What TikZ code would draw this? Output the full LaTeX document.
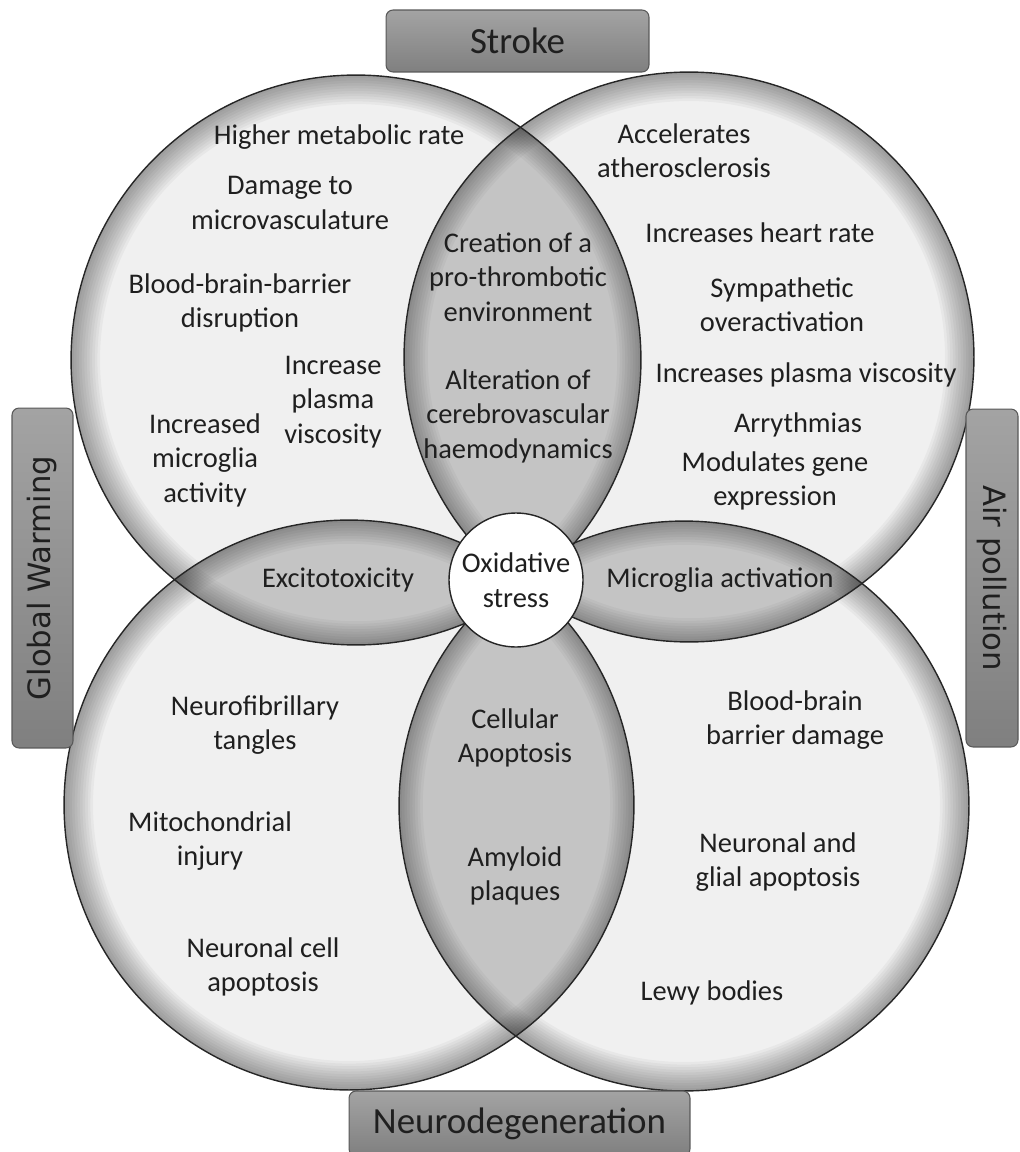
\documentclass[tikz,border=0pt]{standalone}
\usepackage{fontspec}
\setmainfont{Carlito}
\newfontfamily\sidefont{DejaVu Sans}

\newcommand{\circrim}[3]{%
  \foreach \w in {3,6,...,#3}
    \draw[black, draw opacity=0.036, line width=\w pt] (#1) circle[radius=#2];}

\begin{document}
\begin{tikzpicture}[x=0.02cm, y=-0.02cm,
    every node/.style={font=\fontsize{16.2}{19.6}\selectfont, text=black!88},
    txt/.style={align=center, inner sep=0pt},
    tag/.style={draw=black!65, line width=0.6pt, rounded corners=4pt,
      top color=black!36, bottom color=black!50, inner sep=0pt}]
    \clip (0,0) rectangle (1020,1152);
    \coordinate (TL) at (356,360);
    \coordinate (TR) at (689,357);
    \coordinate (BL) at (349,805);
    \coordinate (BR) at (684,806);
    \def\rad{5.7cm}

    \foreach \c in {TL,TR,BL,BR}{
      \fill[black!6] (\c) circle[radius=\rad];
      \begin{scope}
        \clip (\c) circle[radius=\rad];
        \circrim{\c}{\rad}{33}
      \end{scope}
    }

    \foreach \a/\b in {TL/TR, TL/BL, TR/BR, BL/BR}{
      \begin{scope}
        \clip (\a) circle[radius=\rad];
        \clip (\b) circle[radius=\rad];
        \fill[black!23] (\a) circle[radius=\rad];
        \circrim{\a}{\rad}{27}
        \circrim{\b}{\rad}{27}
      \end{scope}
    }

    \foreach \c in {TL,TR,BL,BR}
      \draw[line width=0.8pt, black!85] (\c) circle[radius=\rad];

    \node[circle, draw=black!85, line width=0.8pt, fill=white, minimum size=2.68cm,
      align=center, inner sep=0pt] (ox) at (516,580) {Oxidative\\stress};

    % stroke side
    \node[txt] (hmr) at (339,137) {Higher metabolic rate};
    \node[txt] (dmv) at (290,203) {Damage to\\microvasculature};
    \node[txt] (bbb) at (240,303) {Blood-brain-barrier\\disruption};
    \node[txt] (ipv) at (333,402) {Increase\\plasma\\viscosity};
    \node[txt] (ima) at (205,460) {Increased\\microglia\\activity};
    \node[txt] (cpe) at (518,277) {Creation of a\\pro-thrombotic\\environment};
    \node[txt] (ach) at (518,416) {Alteration of\\cerebrovascular\\haemodynamics};

    % air pollution side
    \node[txt] (aat) at (684,151) {Accelerates\\atherosclerosis};
    \node[txt] (ihr) at (760,233) {Increases heart rate};
    \node[txt] (sov) at (782,305) {Sympathetic\\overactivation};
    \node[txt] (ipvs) at (806,375) {Increases plasma viscosity};
    \node[txt] (arr) at (798,425) {Arrythmias};
    \node[txt] (mge) at (775,481) {Modulates gene\\expression};

    \node[txt] (exc) at (338,580) {Excitotoxicity};
    \node[txt] (mga) at (720,580) {Microglia activation};

    % neurodegeneration side
    \node[txt] (nft) at (255,725) {Neurofibrillary\\tangles};
    \node[txt] (mti) at (210,841) {Mitochondrial\\injury};
    \node[txt] (nca) at (263,967) {Neuronal cell\\apoptosis};
    \node[txt] (cap) at (515,738) {Cellular\\Apoptosis};
    \node[txt] (amp) at (515,876) {Amyloid\\plaques};
    \node[txt] (bbd) at (795,720) {Blood-brain\\barrier damage};
    \node[txt] (nga) at (778,862) {Neuronal and\\glial apoptosis};
    \node[txt] (lwb) at (712,993) {Lewy bodies};

    \node[tag, minimum width=5.26cm, minimum height=1.24cm,
      font=\fontsize{21}{24}\selectfont] (stroke) at (517.5,41) {Stroke};
    \node[tag, rotate=90, minimum width=6.8cm, minimum height=1.22cm,
      font=\sidefont\fontsize{17.5}{20}\selectfont] (gw) at (42.5,578) {Global Warming};
    \node[tag, rotate=-90, minimum width=6.76cm, minimum height=1.04cm,
      font=\sidefont\fontsize{17.5}{20}\selectfont] (ap) at (992,578) {Air pollution};
    \node[tag, minimum width=6.82cm, minimum height=1.3cm,
      font=\fontsize{21}{24}\selectfont] (nd) at (519.5,1123.5) {Neurodegeneration};
\end{tikzpicture}
\end{document}
